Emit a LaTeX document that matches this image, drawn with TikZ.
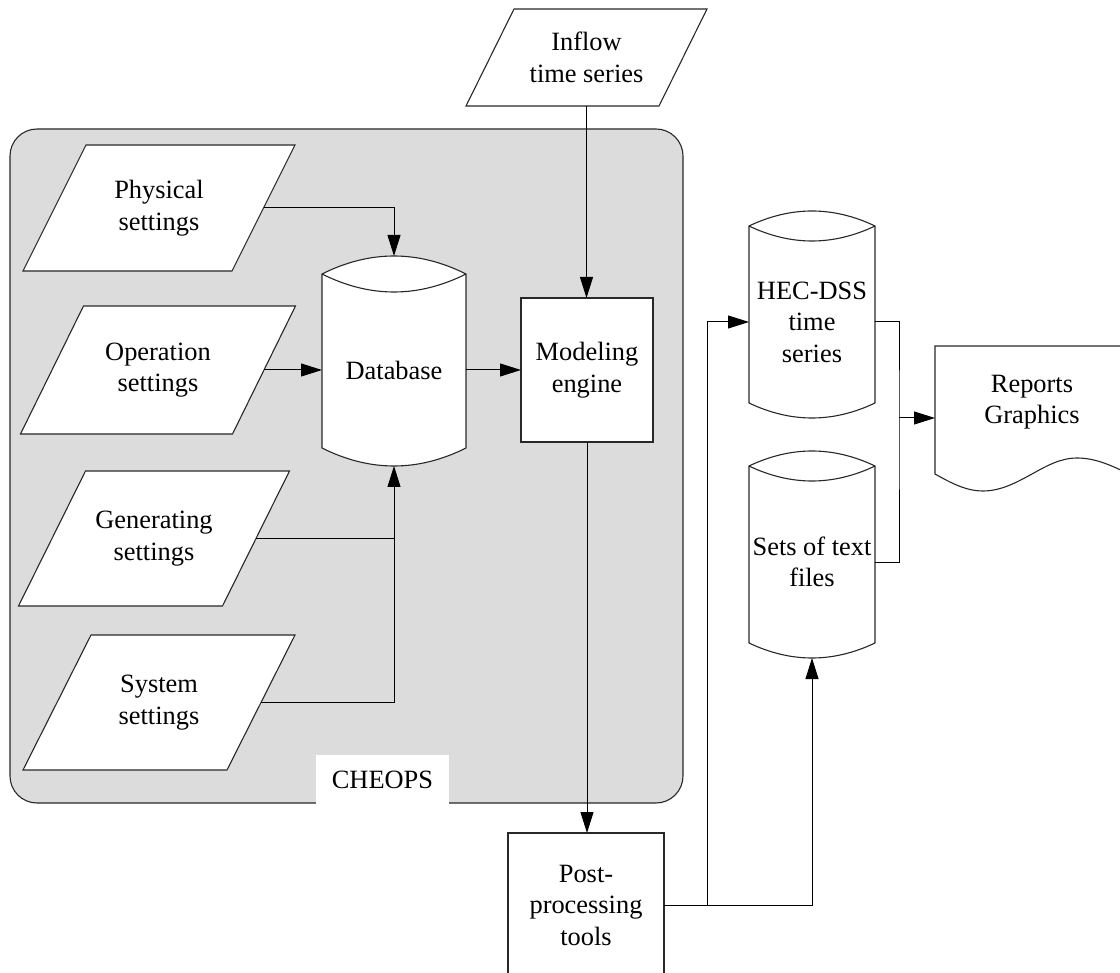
\documentclass[tikz,border=0pt]{standalone}
\usepackage{fontspec}
\setmainfont{Liberation Serif}
\usetikzlibrary{arrows.meta,calc}
\definecolor{hatch}{RGB}{220,220,220}
\definecolor{edge}{RGB}{40,40,40}
\pgfdeclarelayer{back}
\pgfdeclarelayer{shapes}
\pgfsetlayers{back,shapes,main}
\tikzset{
  lbl/.style={align=center, inner sep=0pt, outer sep=0pt, font=\fontsize{26.4}{31.5}\selectfont},
  procbox/.style={lbl, draw=edge, fill=white, line width=1.1pt},
  conn/.style={line width=1pt, draw=black},
  arr/.style={conn, -{Triangle[length=21pt,width=13pt]}},
  outline/.style={draw=edge, fill=white, line width=1.1pt},
  groupbox/.style={draw=edge, fill=hatch, line width=1.1pt, rounded corners=27pt, inner sep=0pt, outer sep=0pt},
  grouplabel/.style={lbl, fill=white},
}
\newcommand\paraoutline[2]{%
  \path[outline] ([xshift=#2pt]#1.north west) -- ([xshift=#2pt]#1.north east)
    -- ([xshift=-#2pt]#1.south east) -- ([xshift=-#2pt]#1.south west) -- cycle;}
% #1 node, #2 sagitta, #3 = 4/3 sagitta, #4 = 1/3 sagitta
\newcommand\cyloutline[4]{%
  \path[outline] ($(#1.south west)+(0,-#2)$) -- (#1.north west)
    .. controls ($(#1.north west)!1/3!(#1.north east)+(0,-#3)$) and ($(#1.north west)!2/3!(#1.north east)+(0,-#3)$) .. (#1.north east)
    -- ($(#1.south east)+(0,-#2)$)
    .. controls ($(#1.south west)!2/3!(#1.south east)+(0,#4)$) and ($(#1.south west)!1/3!(#1.south east)+(0,#4)$) .. ($(#1.south west)+(0,-#2)$) -- cycle;
  \draw[draw=edge, line width=1.1pt] (#1.north west)
    .. controls ($(#1.north west)!1/3!(#1.north east)+(0,#3)$) and ($(#1.north west)!2/3!(#1.north east)+(0,#3)$) .. (#1.north east);}
\begin{document}
\begin{tikzpicture}[x=1pt,y=-1pt]
\useasboundingbox (0,0) rectangle (1120,973);
% group
\begin{pgfonlayer}{back}
\node[groupbox, minimum width=673pt, minimum height=674pt] (cheops) at (346.5,466) {};
\node[grouplabel, minimum width=133pt, minimum height=49pt] (cheopslbl) at (382.5,779.5) {CHEOPS};
\end{pgfonlayer}
% text nodes
\node[lbl, minimum width=193pt, minimum height=97pt] (inflow) at (586.5,57.5) {Inflow\\time series};
\node[lbl, minimum width=209pt, minimum height=126pt] (phys) at (159,208) {Physical\\settings};
\node[lbl, minimum width=212pt, minimum height=128pt] (op) at (158,370) {Operation\\settings};
\node[lbl, minimum width=204pt, minimum height=135pt] (gen) at (154,538.5) {Generating\\settings};
\node[lbl, minimum width=204pt, minimum height=135pt] (sys) at (159,702.5) {System\\settings};
\node[lbl, minimum width=144pt, minimum height=192pt] (db) at (394,370) {Database};
\node[procbox, minimum width=132pt, minimum height=144pt] (model) at (587,370) {Modeling\\engine};
\node[procbox, minimum width=156pt, minimum height=144pt] (post) at (586,905) {Post-\\processing\\tools};
\node[lbl, minimum width=126pt, minimum height=192pt] (hec) at (812,322) {HEC-DSS\\time\\series};
\node[lbl, minimum width=126pt, minimum height=192pt] (sets) at (812,562) {Sets of text\\files};
\node[lbl, minimum width=194pt, minimum height=112pt] (doc) at (1032,402) {Reports\\Graphics};
\coordinate (jl) at (707,905);
\coordinate (jr) at (899,418);
% outlines
\begin{pgfonlayer}{shapes}
\paraoutline{inflow}{24}
\paraoutline{phys}{31.5}
\paraoutline{op}{31.5}
\paraoutline{gen}{33.5}
\paraoutline{sys}{34}
\cyloutline{db}{18}{24}{6}
\cyloutline{hec}{15}{20}{5}
\cyloutline{sets}{15}{20}{5}
\path[outline] ($(doc.south west)+(0,16)$) -- (doc.north west) -- (doc.north east)
  -- ($(doc.south east)+(0,16)$) sin ($(doc.south east)+(-52,0)$)
  cos ($(doc.south)+(0,16)$) sin ($(doc.south west)+(48,33)$)
  cos ($(doc.south west)+(0,16)$) -- cycle;
\end{pgfonlayer}
% connectors
\draw[arr] (phys.east) -| ([yshift=18pt]db.north);
\draw[arr] (op.east) -- (db.west);
\draw[conn] (gen.east) -- (gen.east -| db.south);
\draw[arr] (sys.east) -| (db.south);
\draw[arr] (db.east) -- (model.west);
\draw[arr] (inflow.south) -- (inflow.south |- model.north);
\draw[arr] (model.south) -- (model.south |- post.north);
\draw[conn] (post.east) -- (jl);
\draw[arr] (jl) |- (hec.west);
\draw[arr] (jl) -| (sets.south);
\draw[conn] (hec.east) -| (jr) |- (sets.east);
\draw[arr] (jr) -- (jr -| doc.west);
\end{tikzpicture}
\end{document}
